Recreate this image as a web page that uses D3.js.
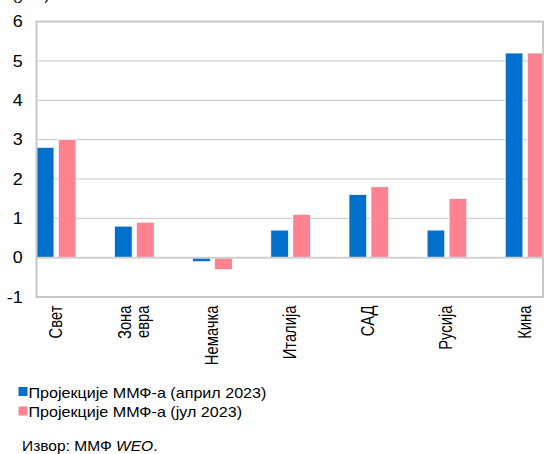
<!DOCTYPE html>
<html><head><meta charset="utf-8">
<script src="https://cdn.jsdelivr.net/npm/d3@7"></script>
<style>body{margin:0;background:#fff}svg{display:block;font-family:"Liberation Sans",Arial,sans-serif}</style>
</head><body><svg id="c" width="544" height="454"></svg>
<script>
const categories = ["Свет", "Зона евра", "Немачка", "Италија", "САД", "Русија", "Кина"];
const april2023 = [2.8, 0.8, -0.1, 0.7, 1.6, 0.7, 5.2];
const july2023 = [3.0, 0.9, -0.3, 1.1, 1.8, 1.5, 5.2];
const yTicks = [-1, 0, 1, 2, 3, 4, 5, 6];
const seriesNames = ["Пројекције ММФ-а (април 2023)", "Пројекције ММФ-а (јул 2023)"];
const colors = ["#0070cc", "#ff8290"];

(function () {
const svg = d3.select("#c");
const pL = 36.5, pR = 543, pT = 21.6, pB = 297;
const y = d3.scaleLinear().domain([-1, 6]).range([pB, pT]);
const x = d3.scaleBand().domain(categories).range([17.1, 17.1 + 7 * 78.15]).paddingInner(0).paddingOuter(0);

// gridlines
svg.append("g").selectAll("line").data(yTicks.filter(t => t !== 0 && t !== -1 && t !== 6)).join("line")
  .attr("x1", pL).attr("x2", pR).attr("y1", d => y(d)).attr("y2", d => y(d))
  .attr("stroke", "#c8c8c8").attr("stroke-width", 1);

// bars
const bw = 17.5;
const series = [april2023, july2023];
series.forEach((vals, si) => {
  svg.append("g").selectAll("rect").data(categories).join("rect")
    .attr("x", (d) => x(d) + x.bandwidth() / 2 + (si === 0 ? -19.75 : 2.25))
    .attr("width", bw)
    .attr("y", (d, i) => y(Math.max(0, vals[i])))
    .attr("height", (d, i) => Math.abs(y(vals[i]) - y(0)))
    .attr("fill", colors[si]).attr("stroke", "#fff").attr("stroke-width", 0.6);
});

// zero line
svg.append("line").attr("x1", pL).attr("x2", pR).attr("y1", y(0)).attr("y2", y(0))
  .attr("stroke", "#d0d0d0").attr("stroke-width", 2);

// frame
svg.append("rect").attr("x", pL).attr("y", pT).attr("width", pR - pL).attr("height", pB - pT)
  .attr("fill", "none").attr("stroke", "#c8c8c8").attr("stroke-width", 2);

// y axis labels
const yAxis = d3.axisLeft(y).tickValues(yTicks).tickFormat(d => String(d)).tickSize(0).tickPadding(0);
const ga = svg.append("g").attr("transform", `translate(22.7,0)`).call(yAxis);
ga.select(".domain").remove();
ga.selectAll("text").attr("font-size", 16).attr("fill", "#000")
  .attr("font-family", "Liberation Sans, Arial, sans-serif").attr("transform", "scale(1.12,1)");

// x labels
const gx = svg.append("g");
categories.forEach(c => {
  const words = c.split(" ");
  const n = words.length;
  words.forEach((w, i) => {
    const cx = x(c) + x.bandwidth() / 2 + (i - (n - 1) / 2) * 18 + 5.5;
    gx.append("text").attr("transform", `translate(${cx},305.5) scale(1.2,1) rotate(-90)`)
      .attr("text-anchor", "end").attr("font-size", 14.8).attr("fill", "#000").text(w);
  });
});

// top unit
svg.append("text").attr("transform", "translate(12,0.3) scale(1.15,1)").attr("font-size", 14).text("(у %)");

// legend
const lg = svg.append("g");
seriesNames.forEach((s, i) => {
  const ly = 397.5 + i * 19.5;
  lg.append("rect").attr("x", 18.5).attr("y", ly - 10.5).attr("width", 9).attr("height", 9).attr("fill", colors[i]);
  lg.append("text").attr("transform", `translate(28.5,${ly}) scale(1.15,1)`).attr("font-size", 14).text(s);
});

// source
const src = svg.append("text").attr("transform", "translate(22,450.5) scale(1.11,1)").attr("font-size", 14);
src.append("tspan").text("Извор: ММФ ");
src.append("tspan").attr("font-style", "italic").text("WEO");
src.append("tspan").text(".");
})();
</script></body></html>
